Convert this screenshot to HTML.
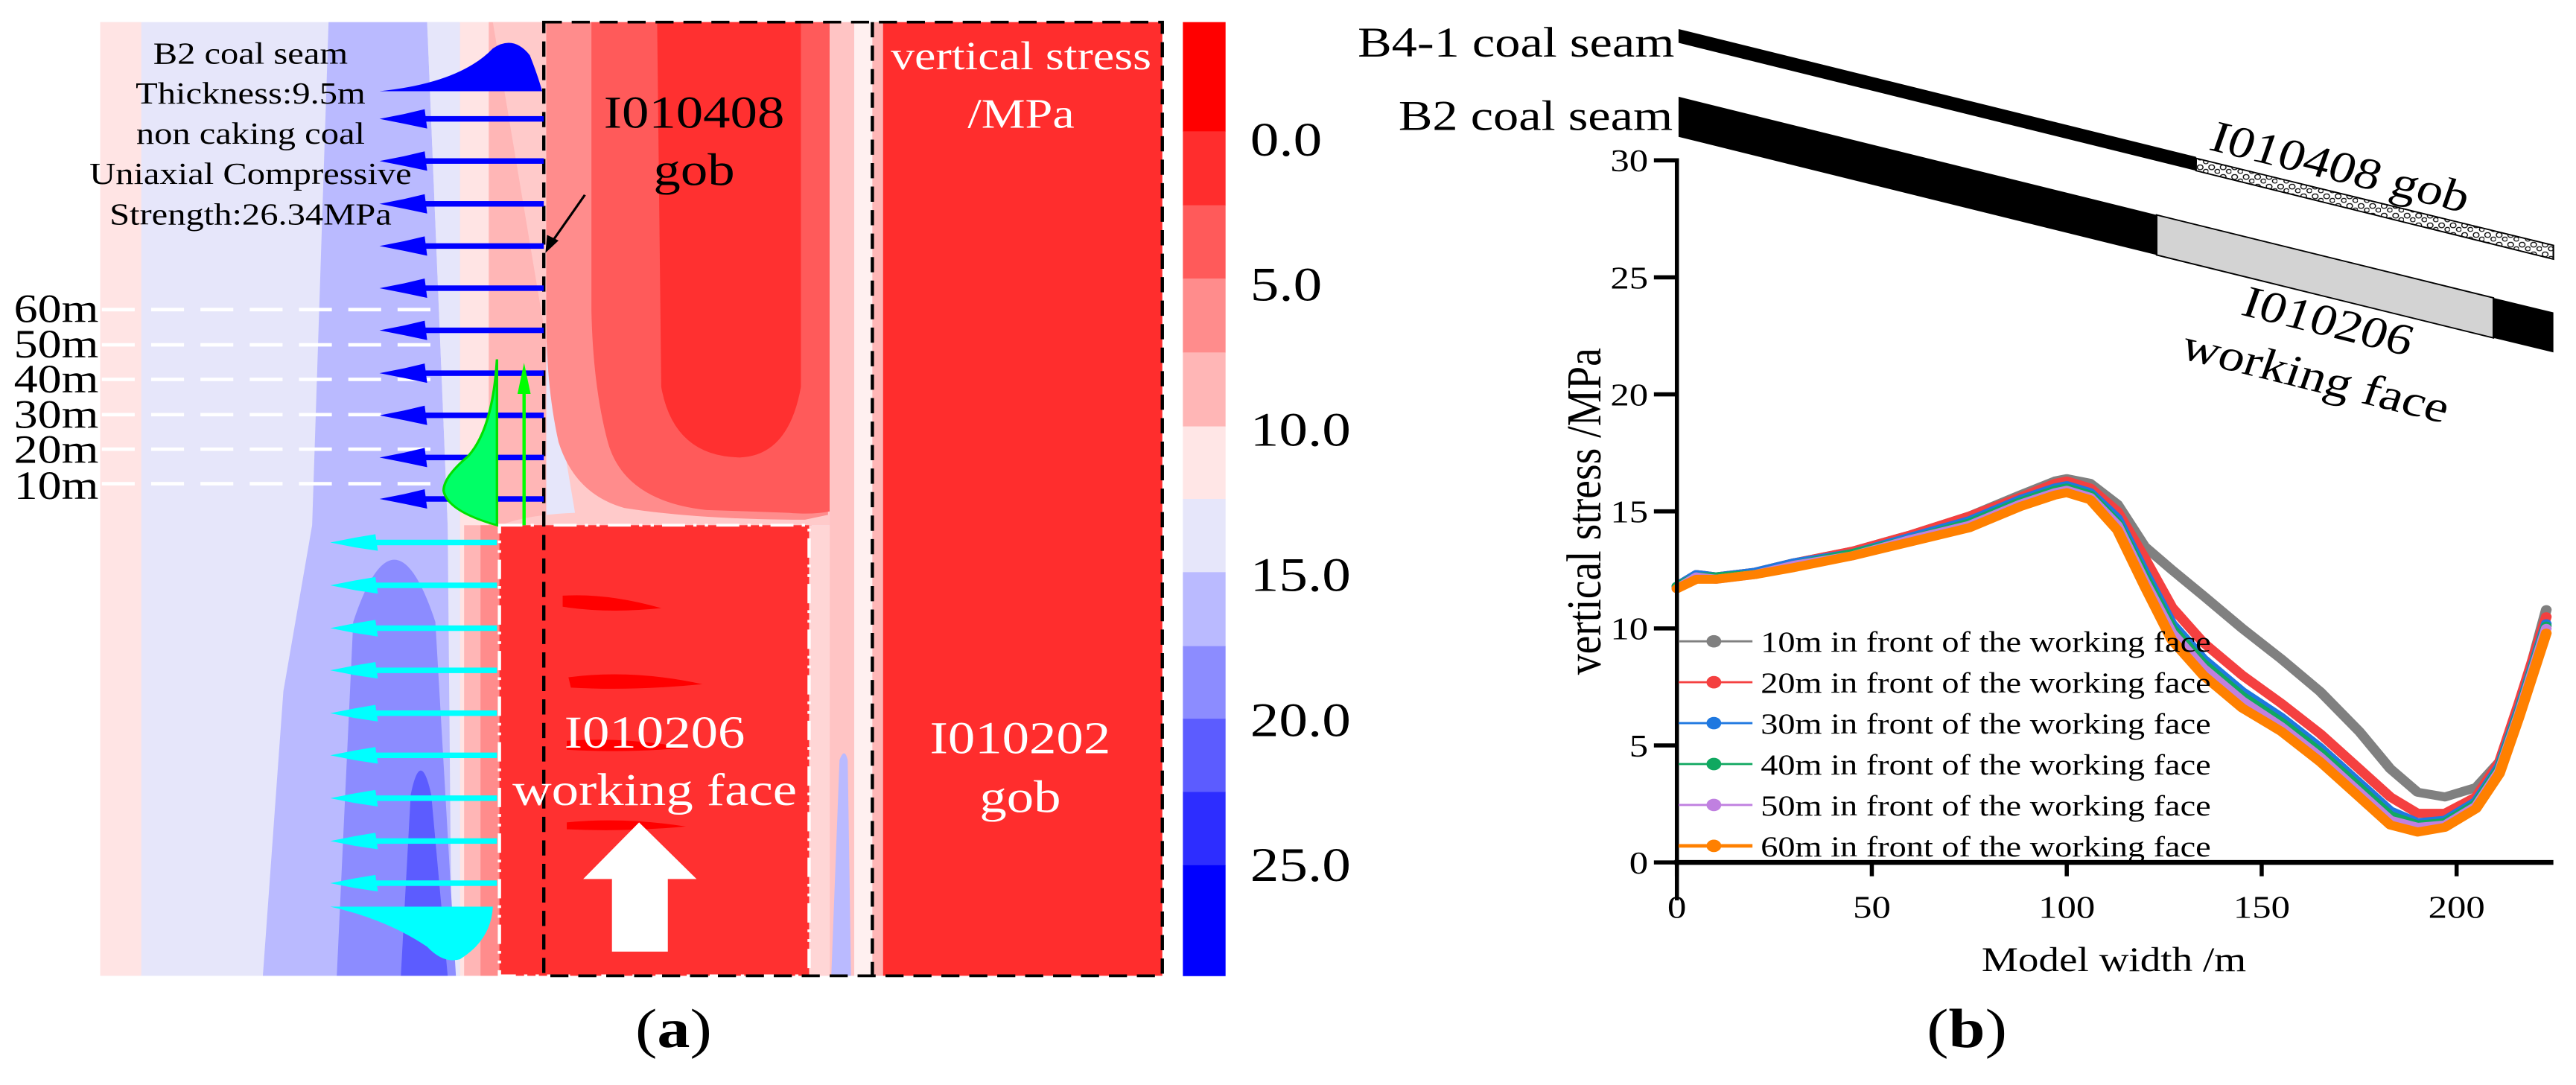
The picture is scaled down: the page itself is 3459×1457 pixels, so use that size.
<!DOCTYPE html>
<html><head><meta charset="utf-8"><style>
html,body{margin:0;padding:0;background:#fff;width:3459px;height:1457px;overflow:hidden}
svg,svg text{display:block;font-family:"Liberation Serif","Times New Roman",serif}
</style></head><body>
<svg id="fig" width="3459" height="1457" viewBox="0 0 3459 1457" xmlns="http://www.w3.org/2000/svg" font-family="Liberation Serif, Times New Roman, serif">
<defs>
<pattern id="gobpat" width="14" height="14" patternUnits="userSpaceOnUse">
<rect width="14" height="14" fill="#fff"/>
<circle cx="4" cy="4" r="3.5" fill="none" stroke="#000" stroke-width="1.3"/>
<circle cx="11" cy="10" r="3" fill="none" stroke="#000" stroke-width="1.3"/>
</pattern>
</defs>

<g transform="scale(1.103,0.928)">
 <g>
  <rect x="122" y="32" width="1293" height="1380" fill="#e6e6fa"/>
  <rect x="122" y="32" width="50" height="1380" fill="#ffe4e4"/>
  <path d="M400,32 L520,32 L545,760 L560,1412 L320,1412 L345,1000 L380,760 Z" fill="#babaff"/>
  <path d="M520,32 L560,32 L560,1412 L550,1412 L545,760 Z" fill="#e6e6fa"/>
  <rect x="560" y="32" width="40" height="1380" fill="#ffe4e4"/>
  <rect x="595" y="32" width="70" height="728" fill="#ffb6b6"/>
  <path d="M410,1412 L430,900 Q480,720 530,900 L555,1412 Z" fill="#8c8cff"/>
  <path d="M488,1412 L500,1150 Q512,1080 525,1150 L545,1412 Z" fill="#5c5cff"/>
  <rect x="565" y="760" width="45" height="652" fill="#ffb6b6"/>
  <rect x="585" y="760" width="25" height="652" fill="#ff8c8c"/>
  <path d="M600,32 L1010,32 L1010,760 L610,760 Q640,745 700,742 Z" fill="#ffcaca"/>
  <path d="M665,32 L1008,32 L1008,745 L980,752 Q850,752 760,735 Q700,715 680,640 Q665,560 665,460 Z" fill="#ff8c8c"/>
  <path d="M720,32 L1010,32 L1010,740 Q990,745 960,742 L860,738 Q760,725 740,640 Q722,560 720,450 Z" fill="#ff5a5a"/>
  <path d="M800,32 L975,32 L975,560 Q960,660 900,662 Q820,660 805,560 Z" fill="#ff3030"/>
  <rect x="1010" y="32" width="30" height="1380" fill="#ffc4c4"/>
  <rect x="1040" y="32" width="22" height="1380" fill="#fff0f0"/>
  <rect x="1062" y="32" width="13" height="1380" fill="#ffb6b6"/>
  <rect x="1075" y="32" width="340" height="1380" fill="#ff2d2d"/>
  <rect x="608" y="760" width="380" height="652" fill="#ff3030"/>
  <rect x="985" y="760" width="25" height="652" fill="#ffd6d6"/>
  <path d="M1012,1412 L1022,1100 Q1028,1080 1032,1100 L1036,1412 Z" fill="#babaff"/>
  <path d="M685,862 Q740,858 805,880 Q740,888 685,878 Z" fill="#ff0000"/>
  <path d="M692,980 Q770,968 855,990 Q770,1000 695,995 Z" fill="#ff0000"/>
  <path d="M690,1072 Q760,1066 835,1082 Q760,1090 690,1085 Z" fill="#ff0000"/>
  <path d="M690,1190 Q760,1182 835,1196 Q760,1204 690,1200 Z" fill="#ff0000"/>
 </g>
 <rect x="608" y="760" width="377" height="652" fill="none" stroke="#fff" stroke-width="4" stroke-dasharray="28,10,4,10,4,10"/>
 <g stroke="#000" stroke-width="4" stroke-dasharray="22,12" fill="none">
  <rect x="662" y="32" width="753" height="1380"/>
  <line x1="1062" y1="32" x2="1062" y2="1412"/>
 </g>
 <g stroke="#fff" stroke-width="5" stroke-dasharray="40,20">
  <line x1="124" y1="448" x2="540" y2="448"/><line x1="124" y1="499" x2="540" y2="499"/>
  <line x1="124" y1="549" x2="540" y2="549"/><line x1="124" y1="600" x2="540" y2="600"/>
  <line x1="124" y1="650" x2="540" y2="650"/><line x1="124" y1="700" x2="540" y2="700"/>
 </g>
 <g font-size="58" text-anchor="end" fill="#000">
  <text x="120" y="466">60m</text><text x="120" y="517">50m</text><text x="120" y="568">40m</text>
  <text x="120" y="619">30m</text><text x="120" y="670">20m</text><text x="120" y="722">10m</text>
 </g>
 <path d="M462,132 Q560,120 600,70 Q625,50 645,80 Q655,110 660,132 Z" fill="#0000ff"/>
 <g id="bluearrows" fill="#0000ff"></g>
 <g id="cyanarrows" fill="#00ffff"></g>
 <path d="M402,1312 L600,1312 Q598,1360 560,1388 Q540,1395 520,1370 Q470,1330 402,1312 Z" fill="#00ffff"/>
 <path d="M605,520 Q600,620 570,660 Q540,690 540,710 Q545,740 605,760 Z" fill="#00ff66" stroke="#00e000" stroke-width="3"/>
 <line x1="638" y1="760" x2="638" y2="570" stroke="#00ff00" stroke-width="4"/>
 <path d="M638,525 L630,570 L646,570 Z" fill="#00ff00"/>
 <line x1="712" y1="282" x2="672" y2="350" stroke="#000" stroke-width="3"/>
 <path d="M664,366 L666,340 L680,348 Z" fill="#000"/>
 <path d="M710,1272 L778,1190 L848,1272 L813,1272 L813,1377 L745,1377 L745,1272 Z" fill="#fff"/>
 <g font-size="44" text-anchor="middle" fill="#000">
  <text x="305" y="92">B2 coal seam</text>
  <text x="305" y="150">Thickness:9.5m</text>
  <text x="305" y="208">non caking coal</text>
  <text x="305" y="266">Uniaxial Compressive</text>
  <text x="305" y="325">Strength:26.34MPa</text>
 </g>
 <g font-size="66" text-anchor="middle">
  <text x="845" y="185" fill="#000">I010408</text><text x="845" y="268" fill="#000">gob</text>
  <text x="1243" y="100" fill="#fff" font-size="58">vertical stress</text><text x="1243" y="185" fill="#fff" font-size="60">/MPa</text>
  <text x="797" y="1082" fill="#fff">I010206</text><text x="797" y="1165" fill="#fff">working face</text>
  <text x="1242" y="1090" fill="#fff">I010202</text><text x="1242" y="1175" fill="#fff">gob</text>
 </g>
 <g id="colorbar"></g>
 <text x="820" y="1515" font-size="80" text-anchor="middle">(<tspan font-weight="bold">a</tspan>)</text>
</g>

<g transform="translate(1730,0) scale(1.103,0.928)">
 <g>
  <polygon points="475,42 1105,227 1105,247 475,62" fill="#000"/>
  <polygon points="1105,229 1540,355 1540,375 1105,247" fill="url(#gobpat)" stroke="#000" stroke-width="2"/>
  <polygon points="475,140 1057,311 1057,369 475,198" fill="#000"/>
  <polygon points="1057,311 1467,431 1467,489 1057,369" fill="#d3d3d3" stroke="#000" stroke-width="2"/>
  <polygon points="1467,431 1540,452 1540,510 1467,489" fill="#000"/>
  <text x="470" y="82" font-size="62" text-anchor="end">B4-1 coal seam</text>
  <text x="468" y="188" font-size="62" text-anchor="end">B2 coal seam</text>
  <text transform="translate(1275,262) rotate(16.4)" font-size="64" text-anchor="middle">I010408 gob</text>
  <text transform="translate(1260,485) rotate(16.4)" font-size="64" text-anchor="middle">I010206</text>
  <text transform="translate(1245,565) rotate(16.4)" font-size="64" text-anchor="middle">working face</text>
 </g>
 <g id="chart"></g>
 <text x="826" y="1515" font-size="80" text-anchor="middle">(<tspan font-weight="bold">b</tspan>)</text>
</g>
</svg>
<script>
const NS="http://www.w3.org/2000/svg";
const xCats=[0,5,10,20,30,45,60,75,88,97,100,106,113,120,127,135,145,155,165,175,183,190,197,205,211,216,223];
const s10=[11.8,12.3,12.2,12.4,12.8,13.3,14.0,14.8,15.7,16.3,16.4,16.2,15.3,13.5,12.5,11.4,10.0,8.7,7.3,5.6,4.0,3.0,2.8,3.2,4.3,6.5,10.8];
const s20=[11.8,12.3,12.2,12.4,12.8,13.3,14.0,14.8,15.6,16.2,16.3,16.0,15.0,13.0,10.9,9.4,8.0,6.8,5.5,4.0,2.8,2.1,2.1,2.8,4.3,6.8,10.5];
const s30=[11.8,12.3,12.2,12.4,12.8,13.2,13.9,14.6,15.5,16.0,16.1,15.8,14.7,12.4,10.2,8.7,7.3,6.2,4.9,3.4,2.2,1.7,1.8,2.6,4.1,6.5,10.2];
const s40=[11.8,12.2,12.2,12.3,12.7,13.2,13.8,14.5,15.4,15.9,16.0,15.7,14.5,12.2,10.0,8.5,7.1,6.0,4.7,3.2,2.0,1.6,1.7,2.5,4.0,6.4,10.1];
const s50=[11.7,12.2,12.1,12.3,12.7,13.1,13.8,14.4,15.3,15.8,15.9,15.6,14.4,12.0,9.8,8.3,6.9,5.8,4.5,3.0,1.8,1.5,1.6,2.4,3.9,6.3,10.0];
const s60=[11.7,12.1,12.1,12.3,12.6,13.1,13.7,14.3,15.2,15.7,15.8,15.5,14.2,11.8,9.5,8.0,6.6,5.6,4.3,2.8,1.6,1.3,1.5,2.3,3.8,6.2,9.8];
const seriesNames=["10m in front of the working face","20m in front of the working face","30m in front of the working face","40m in front of the working face","50m in front of the working face","60m in front of the working face"];
const yTicks=[0,5,10,15,20,25,30];
const xTicks=[0,50,100,150,200];
const cbLabels=["0.0","5.0","10.0","15.0","20.0","25.0"];
const cbColors=["#ff0000","#ff2d2d","#ff5a5a","#ff8c8c","#ffb6b6","#ffe6e6","#e6e6fa","#babaff","#8c8cff","#5c5cff","#2d2dff","#0000ff"];
const FONT="Liberation Serif, Times New Roman, serif";

function mk(tag,attrs,parent){const e=document.createElementNS(NS,tag);for(const k in attrs)e.setAttribute(k,attrs[k]);if(tag==='text')e.setAttribute('font-family',FONT);parent.appendChild(e);return e;}
document.querySelectorAll('text').forEach(t=>t.setAttribute('font-family',FONT));
const X0=473,XPX=237.3/50,Y0=1248,YPX=(1248-232)/30;
const xs=v=>X0+v*XPX, ys=v=>Y0-v*YPX;
const chart=document.getElementById('chart');
const allSeries=[s10,s20,s30,s40,s50,s60];
const colors=["#808080","#f44040","#1f78e0","#10a860","#c080e0","#ff8000"];
allSeries.forEach((s,i)=>{
  const pts=s.map((v,j)=>xs(xCats[j]).toFixed(1)+","+ys(v).toFixed(1)).join(" ");
  const pl=mk('polyline',{points:pts,fill:"none",stroke:colors[i],"stroke-width":13,"stroke-linejoin":"round","stroke-linecap":"round"},chart);
  
  
});
const ax=mk('g',{},chart);


mk('line',{x1:X0,y1:ys(30)-3,x2:X0,y2:Y0+55,stroke:"#000","stroke-width":5},ax);
mk('line',{x1:X0-3,y1:Y0,x2:1540,y2:Y0,stroke:"#000","stroke-width":7},ax);
yTicks.forEach(t=>{
  mk('line',{x1:X0-28,y1:ys(t),x2:X0,y2:ys(t),stroke:"#000","stroke-width":6},ax);
  const tx=mk('text',{x:X0-35,y:ys(t)+16,"font-size":46,"text-anchor":"end"},ax);tx.textContent=t;
  
  
});
xTicks.forEach(t=>{
  mk('line',{x1:xs(t),y1:Y0,x2:xs(t),y2:Y0+20,stroke:"#000","stroke-width":5},ax);
  const tx=mk('text',{x:xs(t),y:Y0+80,"font-size":46,"text-anchor":"middle"},ax);tx.textContent=t;
  
  
});
const yt=mk('text',{transform:"translate(380,740) rotate(-90)","font-size":60,"text-anchor":"middle"},ax);yt.textContent="vertical stress /MPa";


const xt=mk('text',{x:1005,y:1405,"font-size":50,"text-anchor":"middle"},ax);xt.textContent="Model width /m";


const lg=mk('g',{},chart);


seriesNames.forEach((n,i)=>{
  const y=928+i*59.2;
  const g=mk('g',{},lg);
  
  
  mk('line',{x1:475,y1:y,x2:565,y2:y,stroke:colors[i],"stroke-width":i==5?5:3},g);
  mk('circle',{cx:518,cy:y,r:9,fill:colors[i]},g);
  const t=mk('text',{x:575,y:y+15,"font-size":42},g);t.textContent=n;
});
const cb=document.getElementById('colorbar');
const bandEdges=[32,190,297,403,510,617,722,828,935,1040,1146,1252,1412];
cbColors.forEach((c,i)=>{
  const r=mk('rect',{x:1440,y:bandEdges[i],width:52,height:bandEdges[i+1]-bandEdges[i]+0.5,fill:c},cb);
  
  
});
cbLabels.forEach((l,i)=>{
  const t=mk('text',{x:1522,y:200+i*210+25,"font-size":70},cb);t.textContent=l;
  
  
});
function arrow(g,x1,x2,y,h){
  mk('rect',{x:x1+50,y:y-4,width:x2-x1-50,height:8},g);
  mk('path',{d:`M${x1},${y} L${x1+30},${y-7} L${x1+55},${y-h} L${x1+58},${y+h} L${x1+30},${y+7} Z`},g);
}
const ba=document.getElementById('bluearrows');
[172,233,295,356,417,478,540,601,662,722].forEach(y=>arrow(ba,462,662,y,14));
const ca=document.getElementById('cyanarrows');
[785,847,909,970,1032,1093,1155,1217,1278].forEach(y=>arrow(ca,402,605,y,12));
</script>
</body></html>
